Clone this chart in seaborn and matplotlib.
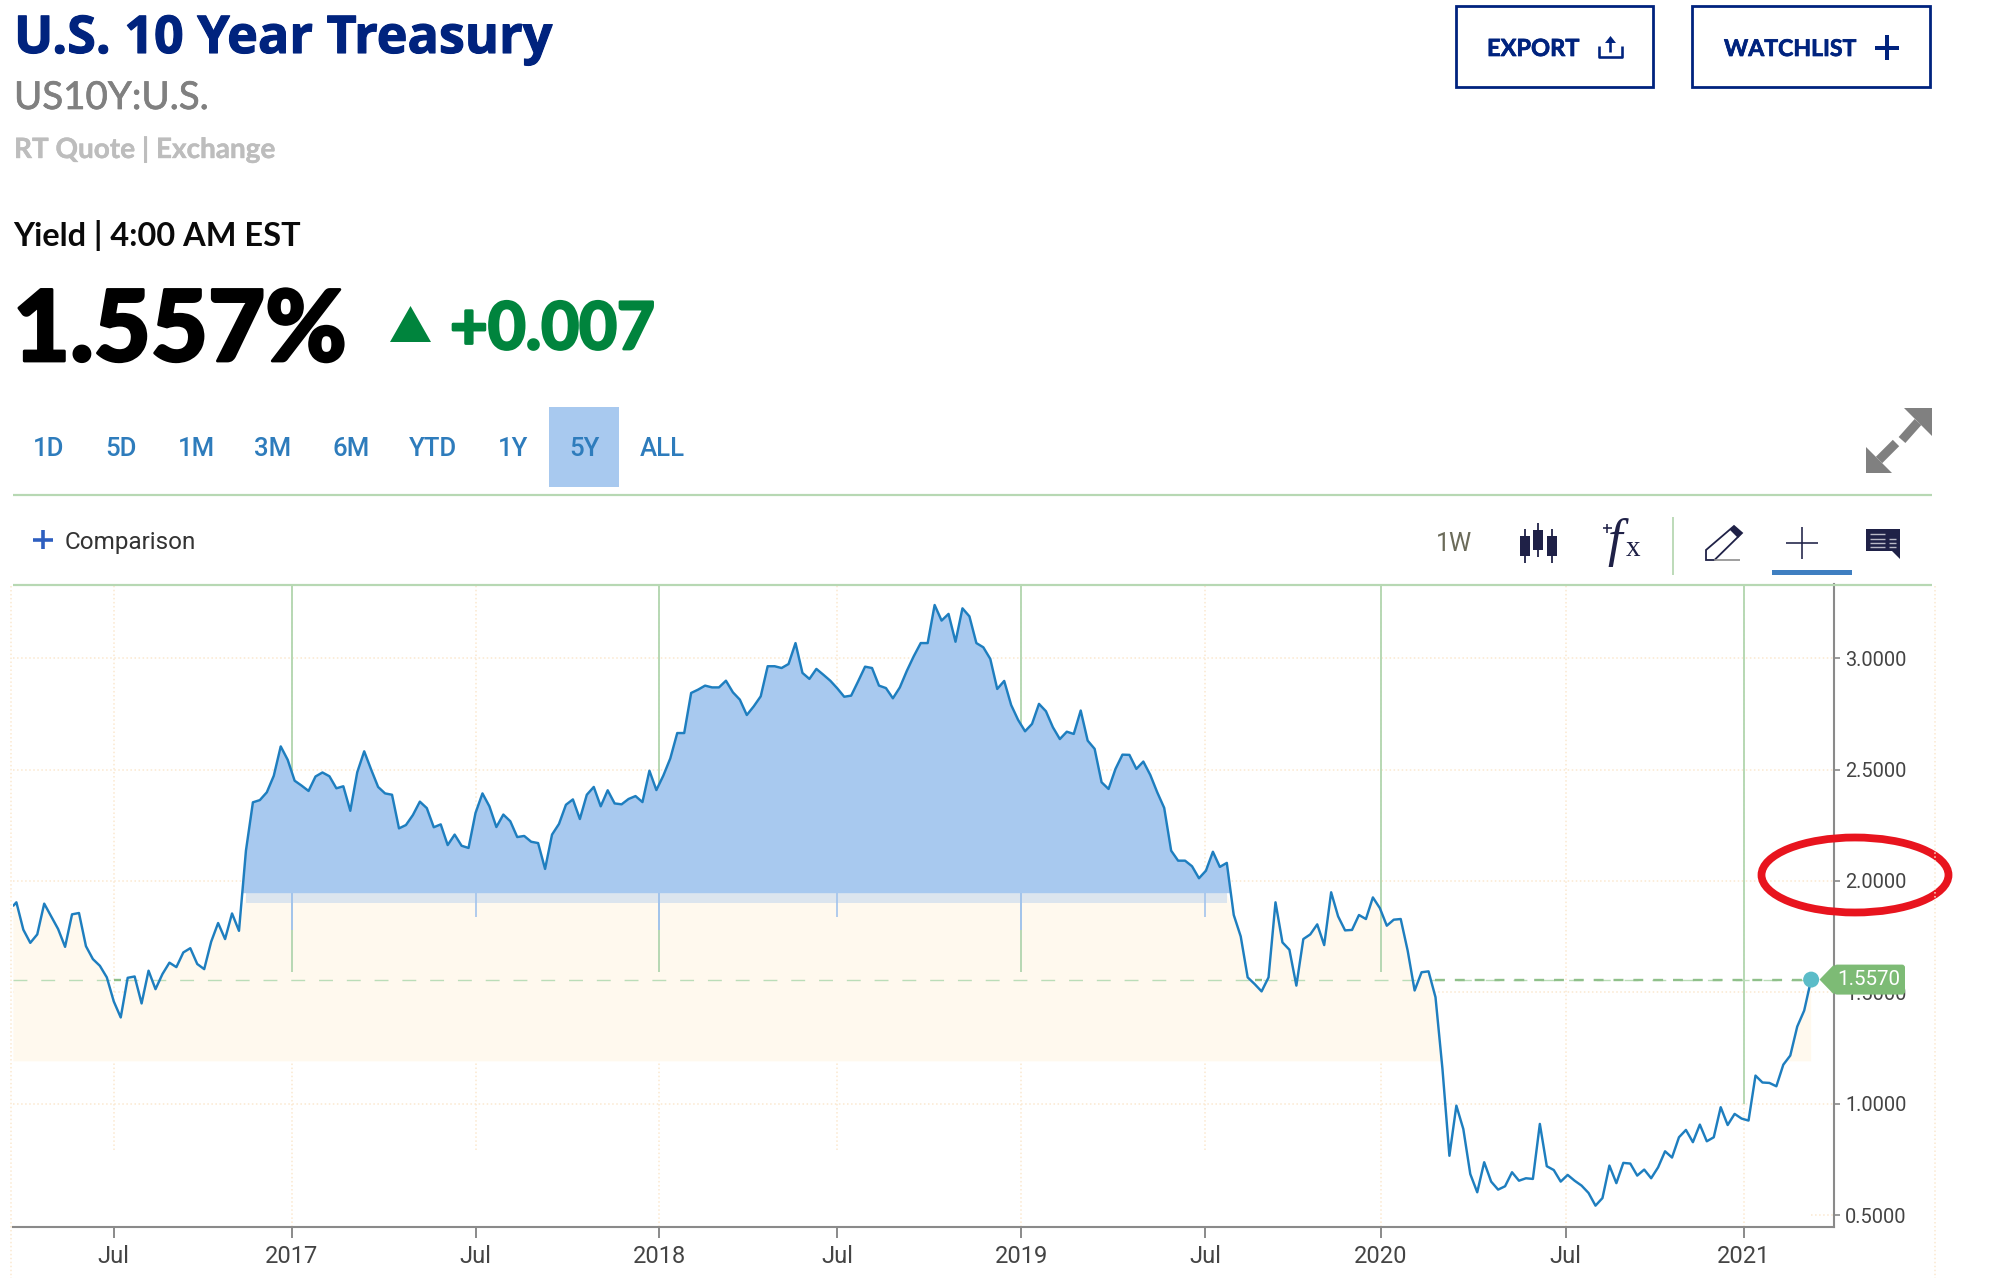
import matplotlib
matplotlib.use("Agg")
import matplotlib.pyplot as plt
import matplotlib.patheffects as pe
from matplotlib.patches import Rectangle, Polygon, Ellipse, FancyBboxPatch
import numpy as np
import pandas as pd
import seaborn as sns

# weekly closes, oldest first
yields_2016 = [1.889, 1.904, 1.781, 1.722, 1.760, 1.898, 1.841, 1.784, 1.704, 1.850, 1.856, 1.707,
               1.649, 1.619, 1.567, 1.459, 1.387, 1.565, 1.571, 1.450, 1.597, 1.514, 1.582, 1.633,
               1.613, 1.679, 1.698, 1.627, 1.604, 1.727, 1.811, 1.739, 1.854, 1.776, 2.136, 2.353,
               2.363, 2.398, 2.472, 2.604, 2.544]
yields_2017 = [2.450, 2.428, 2.404, 2.469, 2.487, 2.470, 2.416, 2.425, 2.315, 2.488, 2.582, 2.500,
               2.422, 2.393, 2.387, 2.236, 2.251, 2.296, 2.356, 2.327, 2.241, 2.254, 2.161, 2.208,
               2.158, 2.148, 2.305, 2.393, 2.335, 2.242, 2.298, 2.268, 2.197, 2.202, 2.176, 2.170,
               2.054, 2.208, 2.256, 2.342, 2.366, 2.278, 2.387, 2.422, 2.335, 2.407, 2.348, 2.344,
               2.368, 2.381, 2.354, 2.495]
yields_2018 = [2.408, 2.473, 2.550, 2.664, 2.664, 2.844, 2.859, 2.877, 2.869, 2.869, 2.899, 2.847,
               2.814, 2.745, 2.784, 2.829, 2.964, 2.964, 2.956, 2.974, 3.068, 2.934, 2.907, 2.952,
               2.926, 2.899, 2.865, 2.827, 2.832, 2.896, 2.962, 2.956, 2.877, 2.866, 2.820, 2.869,
               2.943, 3.009, 3.068, 3.068, 3.239, 3.169, 3.199, 3.074, 3.224, 3.188, 3.068, 3.049,
               2.997, 2.862, 2.898, 2.790, 2.723]
yields_2019 = [2.672, 2.705, 2.795, 2.762, 2.690, 2.637, 2.670, 2.660, 2.765, 2.630, 2.593, 2.443,
               2.413, 2.503, 2.567, 2.566, 2.503, 2.536, 2.476, 2.398, 2.328, 2.136, 2.091, 2.091,
               2.066, 2.012, 2.046, 2.131, 2.063, 2.081, 1.847, 1.751, 1.567, 1.537, 1.504, 1.567,
               1.904, 1.724, 1.691, 1.530, 1.739, 1.760, 1.805, 1.712, 1.949, 1.841, 1.778, 1.780,
               1.847, 1.829, 1.926, 1.878]
yields_2020 = [1.799, 1.826, 1.829, 1.687, 1.508, 1.590, 1.594, 1.478, 1.156, 0.766, 0.991, 0.886,
               0.684, 0.602, 0.737, 0.650, 0.614, 0.629, 0.692, 0.654, 0.665, 0.662, 0.909, 0.719,
               0.702, 0.650, 0.680, 0.654, 0.632, 0.599, 0.542, 0.576, 0.722, 0.643, 0.734, 0.731,
               0.677, 0.704, 0.665, 0.714, 0.786, 0.758, 0.849, 0.882, 0.827, 0.906, 0.831, 0.849,
               0.984, 0.904, 0.954, 0.933, 0.924]
yields_2021 = [1.126, 1.095, 1.093, 1.078, 1.175, 1.216, 1.346, 1.418, 1.557]

first_date = "2016-03-27"
first_week = "2016-03-30"

year_ticks = ["2017-01-01", "2018-01-06", "2019-01-05", "2020-01-02", "2021-01-01"]
year_labels = ["2017", "2018", "2019", "2020", "2021"]
jul_ticks = ["2016-07-06", "2017-07-05", "2018-07-04", "2019-07-09", "2020-07-06"]
y_ticks = [0.5, 1.0, 1.5, 2.0, 2.5, 3.0]
range_labels = ["1D", "5D", "1M", "3M", "6M", "YTD", "1Y", "5Y", "ALL"]
range_centers = [49, 121, 196, 273, 351, 433, 513, 584, 662]

vals = np.array(yields_2016 + yields_2017 + yields_2018 + yields_2019 + yields_2020 + yields_2021)
dates = pd.DatetimeIndex([pd.Timestamp(first_date)]).append(
    pd.date_range(first_week, periods=len(vals) - 1, freq="7D"))
df = pd.DataFrame({"date": dates, "yield": vals})
last = vals[-1]

W, H = 1999, 1278
NAVY = "#00237E"
DARK = "#1F2147"
GREEN_LINE = "#B7D8B3"
GRID = "#FBE8CF"
BLUE_FILL = "#A8C9EF"
BEIGE = "#FFF9EE"
ROW_Y = 1.945  # where the blue area stops

sns.set_theme(style="white")
plt.rcParams["font.family"] = ["Roboto", "DejaVu Sans"]

fig = plt.figure(figsize=(W / 100, H / 100), dpi=100, facecolor="white")
ax = fig.add_axes([13.4 / W, 1 - 1226.7 / H, (1834 - 13.4) / W, (1226.7 - 584.5) / H])

x_lo, x_hi = pd.Timestamp(first_date), pd.Timestamp("2021-04-02")
y_lo, y_hi = 0.4475, 3.331
ax.set_xlim(x_lo, x_hi)
ax.set_ylim(y_lo, y_hi)

# grid
ax.hlines([1.0, 1.5, 2.0, 2.5, 3.0], x_lo, x_hi, color=GRID, lw=1.1, ls=":", zorder=0.5)
ax.hlines(0.5, dates[-1], x_hi, color=GRID, lw=1.1, ls=":", zorder=0.5)
year_d = pd.to_datetime(year_ticks)
jul_d = pd.to_datetime(jul_ticks)
ax.vlines(year_d, y_lo, y_hi, color=GRID, lw=1.1, ls=":", zorder=0.5)
ax.vlines(jul_d[:4], 0.79, y_hi, color=GRID, lw=1.1, ls=":", zorder=0.5)
ax.vlines(jul_d[4], y_lo, y_hi, color=GRID, lw=1.1, ls=":", zorder=0.5)

# areas
ax.fill_between(dates, np.minimum(vals, ROW_Y), 1.19, where=vals > 1.19, interpolate=True,
                color=BEIGE, lw=0, zorder=1)
ax.vlines(year_d[:4], 1.59, y_hi, color=GREEN_LINE, lw=1.4, zorder=1.2)
ax.vlines(year_d[4], 1.0, y_hi, color=GREEN_LINE, lw=1.4, zorder=1.2)
ax.fill_between(dates, vals, ROW_Y, where=vals > ROW_Y, interpolate=True,
                color=BLUE_FILL, lw=0, zorder=1.5)
ax.fill_between(dates, ROW_Y, 1.90, where=vals > ROW_Y, color=BLUE_FILL, alpha=0.4, lw=0, zorder=1.5)
ax.vlines(year_d[:3], 1.78, ROW_Y, color="#A3C4EC", lw=1.4, zorder=1.6)
ax.vlines(jul_d[1:4], 1.84, ROW_Y, color="#A3C4EC", lw=1.2, zorder=1.6)

# current level, pale across the chart and stronger where the line is under it
ax.axhline(last, xmax=(dates[-1] - x_lo) / (x_hi - x_lo), color="#BBDDB8", lw=1.0,
           ls=(0, (10, 10)), zorder=1.8)
ax.plot(dates, np.where(vals < last, last, np.nan), color="#8FC08A", lw=1.7,
        ls=(0, (4.2, 4.2)), zorder=1.9)

sns.lineplot(data=df, x="date", y="yield", ax=ax, color="#1E7EBF", lw=1.75,
             estimator=None, errorbar=None, zorder=3)
sns.scatterplot(x=[dates[-1]], y=[last], ax=ax, s=132, color="#5BBCC8", edgecolor="none", zorder=4)

# axes dressing
sns.despine(ax=ax, left=True, top=True, right=False)
for side in ["bottom", "right"]:
    ax.spines[side].set_color("#8A8A8A")
    ax.spines[side].set_linewidth(1.5)
ax.set_xlabel("")
ax.set_ylabel("")
ax.yaxis.tick_right()
ax.set_yticks(y_ticks, [f"{v:.4f}" for v in y_ticks])
tick_pos = pd.to_datetime(sorted(year_ticks + jul_ticks))
tick_txt = ["Jul" if str(d.date()) in jul_ticks else year_labels[year_ticks.index(str(d.date()))]
            for d in tick_pos]
ax.set_xticks(tick_pos, tick_txt)
ax.tick_params(axis="y", length=4.3, width=1.2, color="#8A8A8A", labelcolor="#444444",
               labelsize=14.4, pad=3.6, right=True, left=False)
ax.tick_params(axis="x", length=8, width=1.4, color="#8A8A8A", labelcolor="#444444",
               labelsize=17, pad=5, bottom=True)
for t in ax.get_yticklabels():
    t.set_va("center_baseline")

# page furniture, placed in pixels on a full-figure layer
ui = fig.add_axes([0, 0, 1, 1], zorder=10)
ui.set_xlim(0, W)
ui.set_ylim(H, 0)
ui.axis("off")
ui.patch.set_alpha(0)


def label(x, y, s, size, color, weight="normal", family="Lato", stroke=0, **kw):
    t = ui.text(x, y, s, fontsize=size, color=color, fontweight=weight, family=family, va="baseline", **kw)
    if stroke:
        t.set_path_effects([pe.withStroke(linewidth=stroke, foreground=color)])


def seg(xs, ys, color, px=2.0, **kw):
    ui.plot(xs, ys, color=color, lw=px * 0.72, solid_capstyle="butt", **kw)


label(14, 53, "U.S. 10 Year Treasury", 37.5, NAVY, "bold", "Open Sans", stroke=0.8)
label(14, 109, "US10Y:U.S.", 27.7, "#808080", "normal", stroke=0.5)
label(14, 158, "RT Quote | Exchange", 20.1, "#BDBDBD", "bold", stroke=0.3)
label(13, 246, "Yield | 4:00 AM EST", 23.4, "#0A0A0A", "bold")
label(13, 361, "1.557%", 71, "#000000", "black", stroke=2)
ui.add_patch(Polygon([(390, 342), (431, 342), (410.5, 306)], color="#00843D", lw=0))
label(450, 349, "+0.007", 47, "#00843D", "bold", stroke=2)

# range selector
ui.add_patch(Rectangle((549, 407), 70, 80, color=BLUE_FILL, lw=0))
for cx, txt in zip(range_centers, range_labels):
    label(cx, 456, txt, 18.5, "#2E7CBC", "medium", "Roboto", ha="center")
seg([13, 1932], [495, 495], GREEN_LINE, 2.2)
seg([13, 1932], [584.5, 584.5], GREEN_LINE, 2.2)

# buttons
for x0, x1 in [(1456.5, 1653), (1692, 1930)]:
    ui.add_patch(Rectangle((x0, 5.5), x1 - x0, 81.5, fill=False, ec=NAVY, lw=2))
label(1487, 56, "EXPORT", 17, NAVY, "bold", stroke=0.5)
label(1724, 56, "WATCHLIST", 16.6, NAVY, "bold", stroke=0.5)
seg([1599, 1599, 1622, 1622], [46, 57, 57, 46], NAVY, 2.6)
seg([1610.5, 1610.5], [41, 52], NAVY, 2.6)
ui.add_patch(Polygon([(1605, 43), (1610.5, 36), (1616, 43)], color=NAVY, lw=0))
seg([1875, 1899], [47.5, 47.5], NAVY, 4)
seg([1887, 1887], [35, 60], NAVY, 4)

# expand arrows
ui.add_patch(Polygon([(1904, 408), (1932, 408), (1932, 436)], color="#808080", lw=0))
seg([1918, 1902], [422, 440], "#808080", 9)
ui.add_patch(Polygon([(1866, 473), (1866, 447), (1892, 473)], color="#808080", lw=0))
seg([1879, 1896], [460, 443], "#808080", 9)

# comparison
seg([33, 53], [539.5, 539.5], "#2E5FC0", 3.6)
seg([43, 43], [530, 549], "#2E5FC0", 3.6)
label(65, 549, "Comparison", 17.5, "#333333", "normal", "Roboto")

# tool row
label(1436, 551, "1W", 18, "#6B6B5A", "normal", "Roboto")
for x0, top, bot, b0, b1 in [(1520, 529, 563, 536, 556), (1533, 523, 557, 530, 550), (1547, 529, 563, 536, 556)]:
    seg([x0 + 5, x0 + 5], [top, bot], DARK, 1.8)
    ui.add_patch(Rectangle((x0, b0), 10, b1 - b0, color=DARK, lw=0))
label(1607, 556, "f", 38, DARK, "normal", "Liberation Serif", style="italic")
label(1626, 556, "x", 21, DARK, "normal", "Liberation Serif")
seg([1603, 1612], [528, 528], DARK, 1.6)
seg([1607.5, 1607.5], [523.5, 532.5], DARK, 1.6)
seg([1673, 1673], [517, 575], GREEN_LINE, 1.8)
ui.add_patch(Polygon([(1706, 560), (1706, 550), (1734, 526), (1742, 533), (1714.5, 560)],
                     fill=False, ec=DARK, lw=1.3))
ui.add_patch(Polygon([(1730, 530), (1734, 526), (1742, 533), (1738, 538)], color=DARK, lw=0))
seg([1714, 1740], [560, 560], "#8A8A8A", 1.6)
seg([1786, 1818], [543, 543], DARK, 1.6)
seg([1802, 1802], [527, 559], DARK, 1.6)
ui.add_patch(Rectangle((1772, 569.5), 80, 5.5, color="#3F7FC1", lw=0))
ui.add_patch(Polygon([(1866, 529), (1900, 529), (1900, 559), (1892, 551), (1866, 551)], color=DARK, lw=0))
for yy in [534, 538.5, 543, 547]:
    seg([1870, 1885], [yy, yy], "#B9B9C6", 1.4)
for yy in [538.5, 543, 547]:
    seg([1889, 1896], [yy, yy], "#B9B9C6", 1.4)

# pale frame dots left and right of the plot
seg([11, 11], [586, H], GRID, 1.5, ls=":")
seg([1935, 1935], [586, H], GRID, 1.5, ls=":")

# last value flag, at the height the main axes gives the last value
to_ui = ax.transData + ui.transData.inverted()
_, flag_y = to_ui.transform((matplotlib.dates.date2num(dates[-1]), last))
ui.add_patch(FancyBboxPatch((1834, flag_y - 15), 71, 30, boxstyle="round,pad=0,rounding_size=3",
                            color="#7DBB75", lw=0))
ui.add_patch(Polygon([(1819.5, flag_y), (1834, flag_y - 15), (1834, flag_y + 15)], color="#7DBB75", lw=0))
ui.text(1869, flag_y, f"{last:.4f}", fontsize=14.8, color="white", family="Roboto", ha="center", va="center")

# hand drawn ring around 2.0000
ui.add_patch(Ellipse((1855, 875), 187, 75, fill=False, ec="#E8141E", lw=5.6))

fig.savefig("out.png", dpi=100)
